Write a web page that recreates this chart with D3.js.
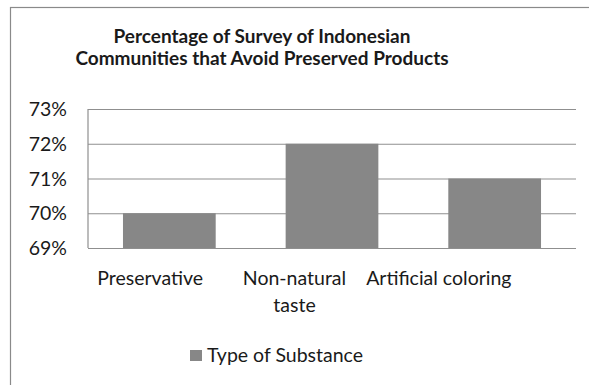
<!DOCTYPE html>
<html>
<head>
<meta charset="utf-8">
<script src="https://cdn.jsdelivr.net/npm/d3@7"></script>
<style>
  body { margin: 0; background: #fff; }
  text { font-family: Lato, "Open Sans", sans-serif; fill: #1a1a1a; }
</style>
</head>
<body>
<div id="chart"></div>
<script>
// data
const categories = ["Preservative", "Non-natural taste", "Artificial coloring"];
const labelLines = [["Preservative"], ["Non-natural", "taste"], ["Artificial coloring"]];
const values = [70, 72, 71];
const yTicks = [69, 70, 71, 72, 73];
const titleLines = ["Percentage of Survey of Indonesian", "Communities that Avoid Preserved Products"];
const seriesName = "Type of Substance";

const W = 589, H = 385;
const margin = { top: 109, right: 13, bottom: 137, left: 88 };
const width = W - margin.left - margin.right,
      height = H - margin.top - margin.bottom;

const barColor = "#878787", gridColor = "#8f8f8f";

const svg = d3.select("#chart").append("svg")
  .attr("width", W).attr("height", H);

// outer chart border (right/bottom run off the picture)
svg.append("rect")
  .attr("x", 10.5).attr("y", 7.5)
  .attr("width", 620).attr("height", 420)
  .attr("fill", "none").attr("stroke", "#8a8a8a").attr("stroke-width", 1.2);

// title
svg.append("g").selectAll("text").data(titleLines).join("text")
  .attr("x", 262).attr("y", (d, i) => 43 + i * 22)
  .attr("text-anchor", "middle")
  .style("font-size", "19px").style("font-weight", "bold")
  .text(d => d);

const g = svg.append("g").attr("transform", `translate(${margin.left},${margin.top})`);

const x = d3.scaleBand().domain(categories).range([0, width]).paddingInner(0.43).paddingOuter(0.215);
const y = d3.scaleLinear().domain([69, 73]).range([height, 0]);

// gridlines
g.append("g")
  .call(d3.axisLeft(y).tickValues(yTicks).tickSize(-width).tickFormat(""))
  .call(a => a.select(".domain").remove())
  .selectAll("line").attr("stroke", gridColor).attr("stroke-width", 1.2);

// left axis line
g.append("line").attr("x1", 0).attr("x2", 0).attr("y1", 0).attr("y2", height)
  .attr("stroke", gridColor).attr("stroke-width", 1.2);

// bars
g.selectAll("rect.bar").data(values).join("rect")
  .attr("class", "bar")
  .attr("x", (d, i) => x(categories[i]))
  .attr("width", x.bandwidth())
  .attr("y", d => y(d))
  .attr("height", d => y(69) - y(d))
  .attr("fill", barColor);

// y tick labels
g.append("g").selectAll("text").data(yTicks).join("text")
  .attr("x", -21).attr("y", d => y(d)).attr("dy", "0.36em")
  .attr("text-anchor", "end")
  .style("font-size", "19.5px")
  .text(d => d + "%");

// category labels (sit a little left of the bars in the reference)
const xl = d3.scaleBand().domain(categories).range([-10, 423]);
const lab = g.append("g").selectAll("text").data(categories).join("text")
  .attr("x", d => xl(d) + xl.bandwidth() / 2)
  .attr("y", height + 37)
  .attr("text-anchor", "middle")
  .style("font-size", "19.5px");
lab.selectAll("tspan").data((d, i) => labelLines[i]).join("tspan")
  .attr("x", function() { return this.parentNode.getAttribute("x"); })
  .attr("dy", (d, i) => i === 0 ? 0 : 27)
  .text(d => d);

// legend
const lg = svg.append("g").attr("transform", "translate(190,350)");
lg.append("rect").attr("width", 12).attr("height", 11).attr("fill", barColor);
lg.append("text").attr("x", 17).attr("y", 12).style("font-size", "19.5px").text(seriesName);
</script>
</body>
</html>
